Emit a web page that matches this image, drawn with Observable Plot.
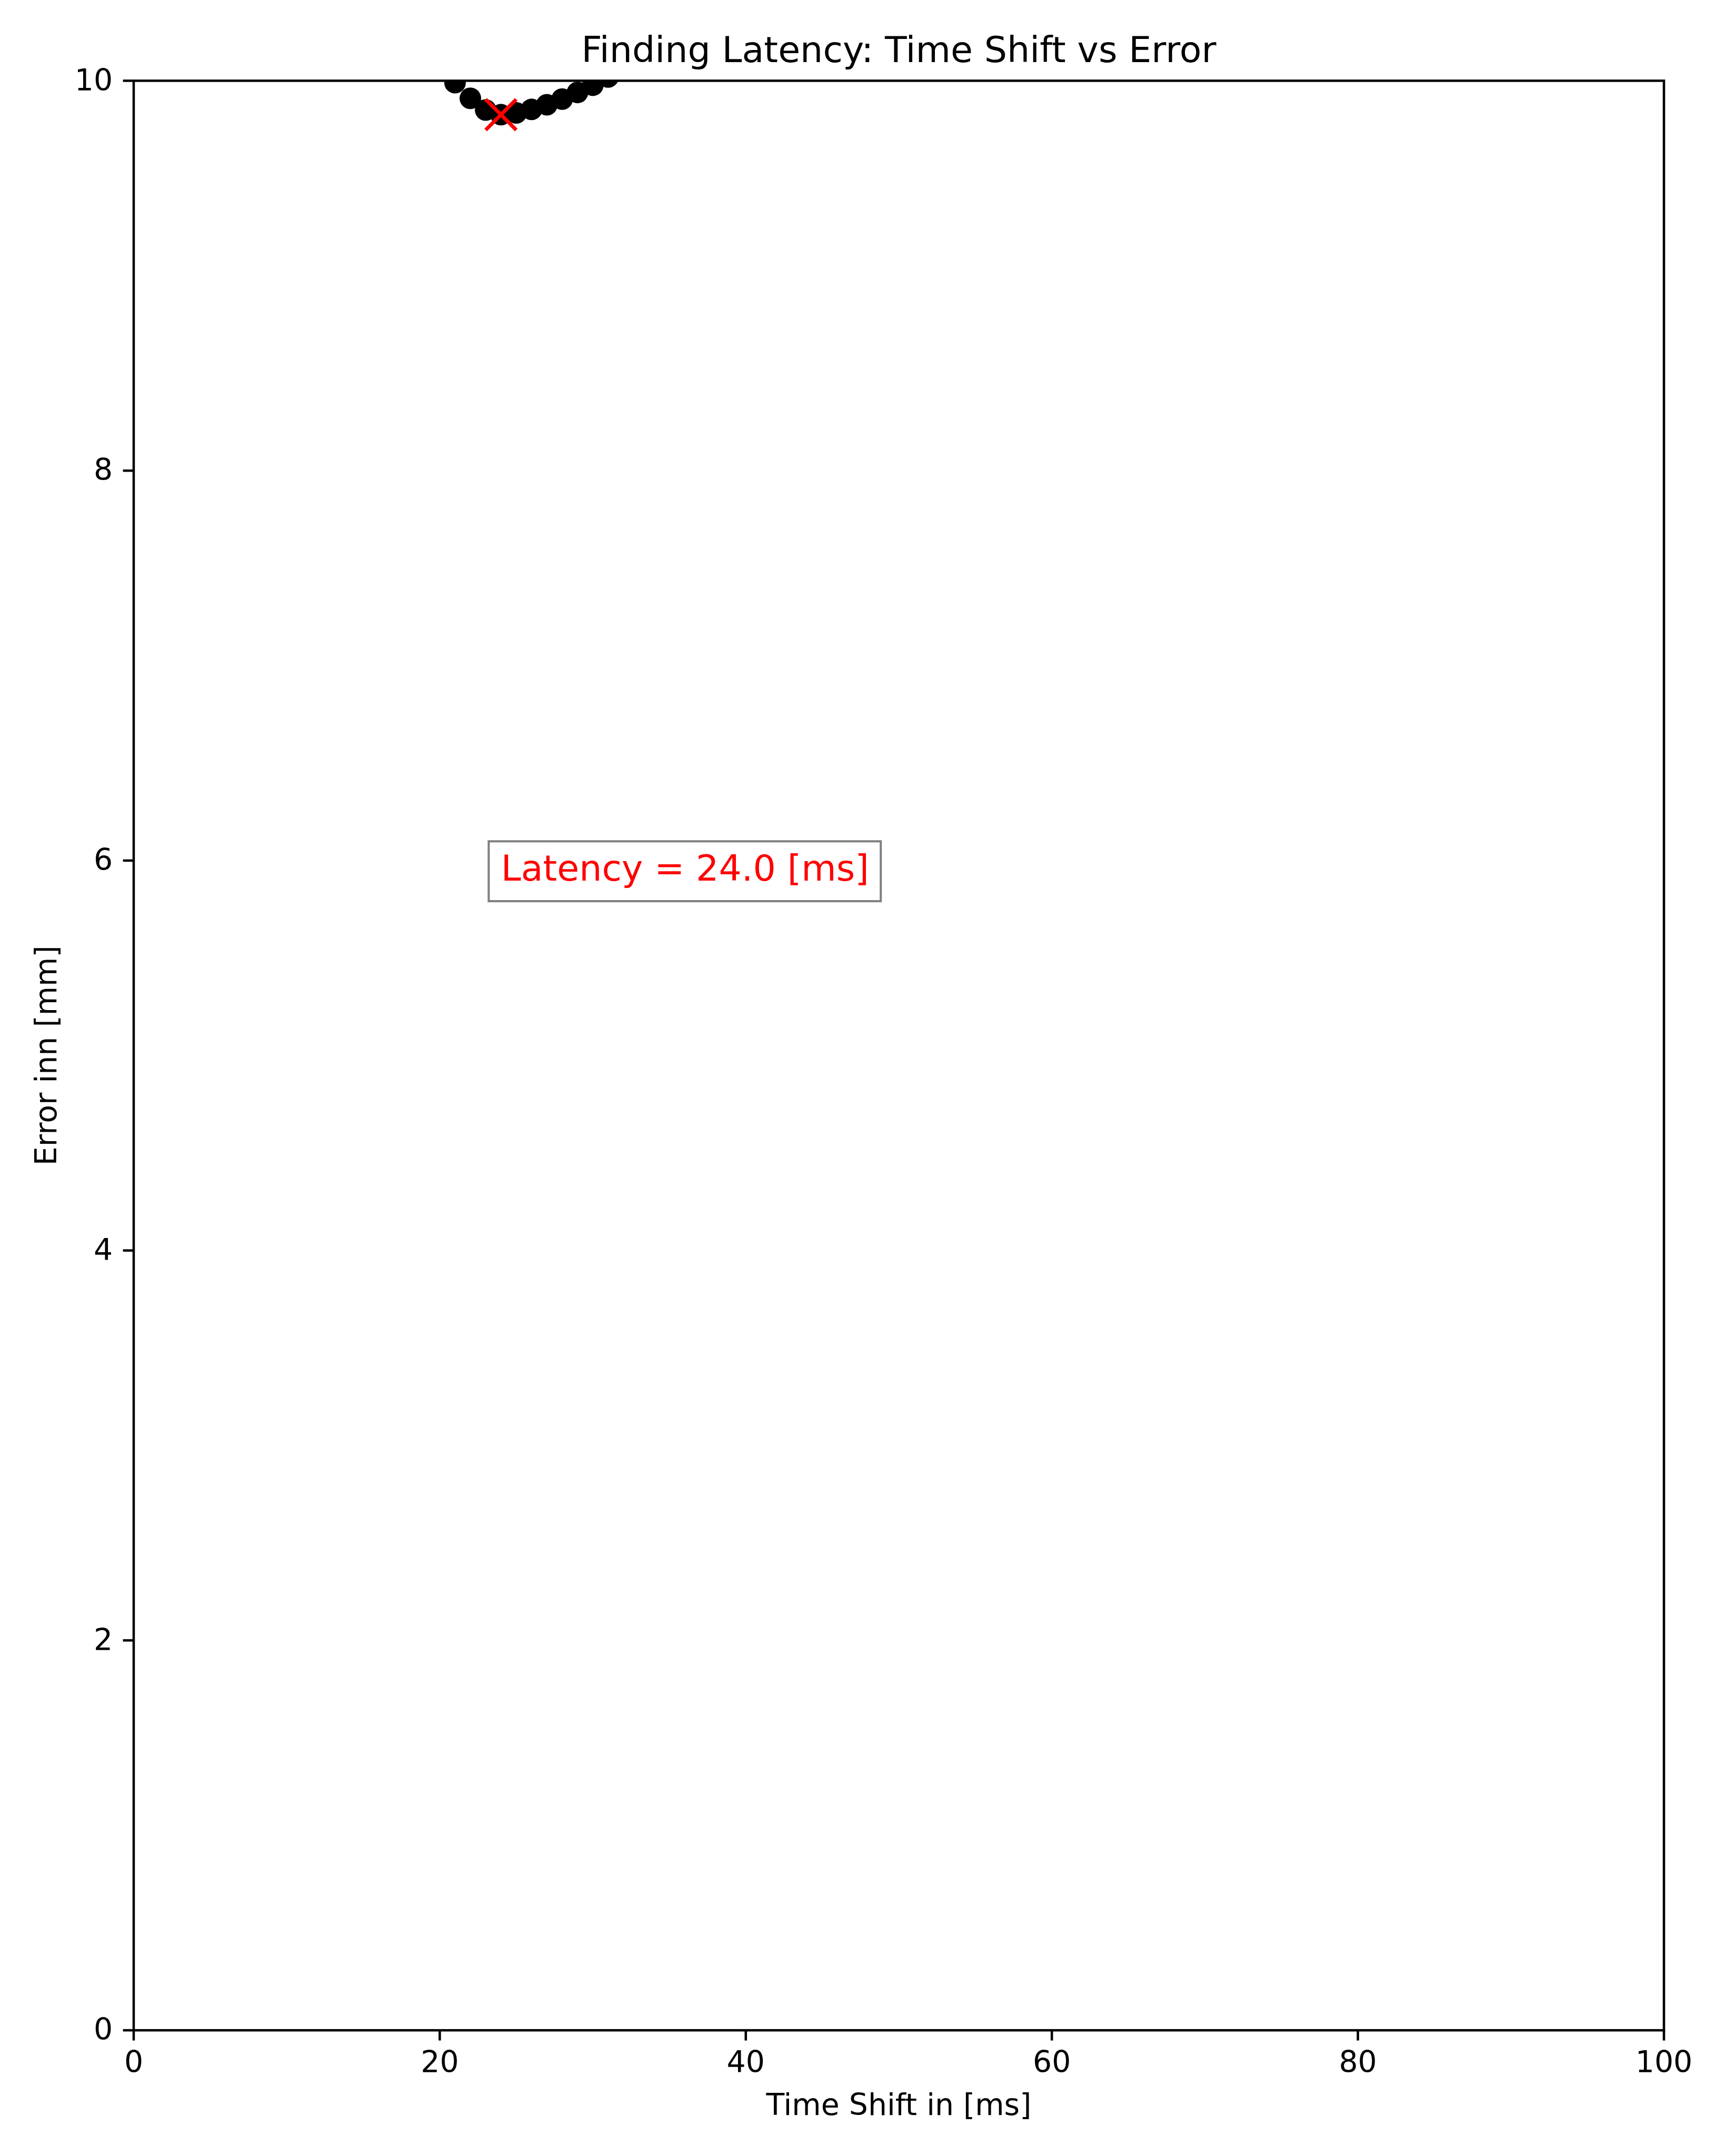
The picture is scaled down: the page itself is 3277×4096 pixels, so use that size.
<!DOCTYPE html>
<html>
<head>
<meta charset="utf-8">
<script src="https://cdn.jsdelivr.net/npm/d3@7"></script>
<script src="https://cdn.jsdelivr.net/npm/@observablehq/plot@0.6"></script>
<style>
  html, body { margin: 0; padding: 0; background: #ffffff; }
  #chart { width: 3277px; height: 4096px; }
  svg { display: block; }
</style>
</head>
<body>
<div id="chart"></div>
<script>
// ---- data ----
const timeShiftMs = [21, 22, 23, 24, 25, 26, 27, 28, 29, 30, 31];
const errorMm = [9.990, 9.910, 9.850, 9.826, 9.835, 9.853, 9.877, 9.906, 9.940, 9.977, 10.019];
const latencyMs = [24.0];
const minErrorMm = [9.826];
const annotationY = [5.896];
const xTicks = [0, 20, 40, 60, 80, 100];
const yTicks = [0, 2, 4, 6, 8, 10];
const titleText = ["Finding Latency: Time Shift vs Error"];
const xLabelText = ["Time Shift in [ms]"];
const yLabelText = ["Error inn [mm]"];
const annotationText = ["Latency = 24.0 [ms]"];

// ---- layout (reference size * 0.819) ----
const W = 3277, H = 4096;
const S = 0.819;
const PT = 500 / 72 * S;           // one matplotlib point in output pixels
const marginLeft = 309.5 * S;
const marginRight = W - 3859 * S;
const marginTop = 186.7 * S;
const marginBottom = H - 4709 * S;
const tickFont = 10 * PT;
const titleFont = 12 * PT;
const tickLen = 3.5 * PT;
const lineW = 0.8 * PT;

const points = timeShiftMs.map((t, i) => ({t, e: errorMm[i]}));
const minPoint = latencyMs.map((t, i) => ({t, e: minErrorMm[i]}));
const annot = latencyMs.map((t, i) => ({t, e: annotationY[i], label: annotationText[i]}));

const plot = Plot.plot({
  width: W,
  height: H,
  marginLeft, marginRight, marginTop, marginBottom,
  style: {background: "#ffffff", fontFamily: "DejaVu Sans", color: "#000000", overflow: "visible"},
  x: {domain: [0, 100]},
  y: {domain: [0, 10]},
  marks: [
    Plot.dot(points, {x: "t", y: "e", r: 20.5, fill: "#000000", stroke: "none", clip: true}),
    Plot.dot(minPoint, {x: "t", y: "e", r: 26.5, symbol: "times", stroke: "#ff0000", strokeWidth: 7, fill: "none", clip: true}),
    Plot.text(annot, {x: "t", y: "e", text: "label", fill: "#ff0000", fontSize: titleFont, textAnchor: "start", lineAnchor: "bottom"}),
    Plot.frame({stroke: "#000000", strokeWidth: lineW}),
    Plot.axisX(xTicks, {tickSize: tickLen, tickPadding: tickLen, fontSize: tickFont, label: null, strokeWidth: lineW, tickFormat: d => String(d)}),
    Plot.axisY(yTicks, {tickSize: tickLen, tickPadding: tickLen, fontSize: tickFont, label: null, strokeWidth: lineW, tickFormat: d => String(d)}),
    Plot.text(titleText, {text: d => d, frameAnchor: "top", dy: 144 * S - marginTop, fontSize: titleFont, lineAnchor: "bottom", textAnchor: "middle", fill: "#000000"}),
    Plot.text(xLabelText, {text: d => d, frameAnchor: "bottom", dy: 4905 * S - (H - marginBottom), fontSize: tickFont, lineAnchor: "bottom", textAnchor: "middle", fill: "#000000"}),
    Plot.text(yLabelText, {text: d => d, frameAnchor: "left", dx: 130 * S - marginLeft, rotate: -90, fontSize: tickFont, lineAnchor: "bottom", textAnchor: "middle", fill: "#000000"})
  ]
});

document.getElementById("chart").appendChild(plot);

// ---- matplotlib-style bbox behind the annotation text ----
const xs = plot.scale("x"), ys = plot.scale("y");
const texts = Array.from(plot.querySelectorAll("text"));
const tEl = texts.find(el => el.textContent === annotationText[0]);
if (tEl) {
  const len = tEl.getComputedTextLength();
  const x0 = xs.apply(annot[0].t);
  const base = ys.apply(annot[0].e);
  const pad = 4 * PT;
  const bw = 1 * PT * 0.72;
  const left = x0 - pad;
  const right = x0 + len + pad;
  const top = base - 0.76 * titleFont - pad;
  const bottom = base + 0.24 * titleFont + pad;
  const rect = document.createElementNS("http://www.w3.org/2000/svg", "rect");
  rect.setAttribute("x", left);
  rect.setAttribute("y", top);
  rect.setAttribute("width", right - left);
  rect.setAttribute("height", bottom - top);
  rect.setAttribute("fill", "#ffffff");
  rect.setAttribute("stroke", "#808080");
  rect.setAttribute("stroke-width", bw);
  let g = tEl;
  while (g.parentNode && g.parentNode !== plot) g = g.parentNode;
  plot.insertBefore(rect, g);
}
</script>
</body>
</html>
